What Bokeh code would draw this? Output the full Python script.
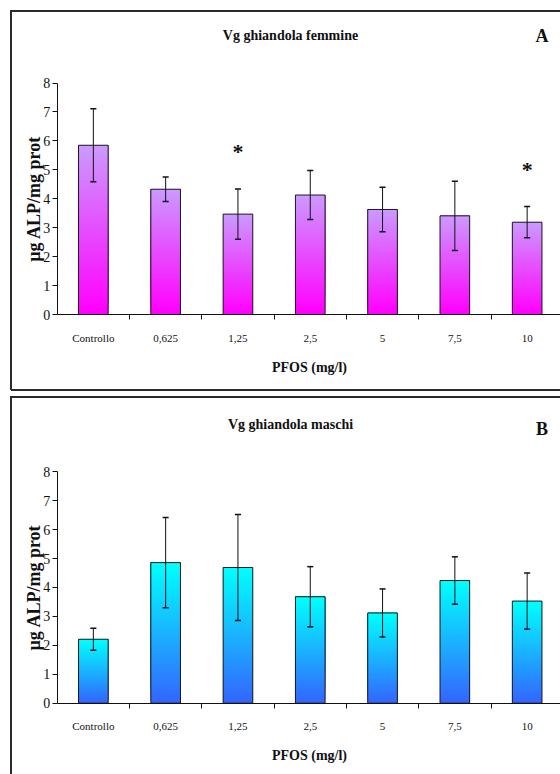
import numpy as np
from bokeh.plotting import figure
from bokeh.models import FixedTicker, ColumnDataSource
from bokeh.layouts import column
from bokeh.embed import file_html
from bokeh.resources import INLINE
from bokeh.core.properties import value

# PFOS doses (mg/l) and Vg measurements (µg ALP / mg prot), mean ± error
doses = ["Controllo", "0,625", "1,25", "2,5", "5", "7,5", "10"]

fem_mean = [5.85, 4.33, 3.47, 4.13, 3.63, 3.41, 3.19]
fem_err = [1.26, 0.42, 0.87, 0.85, 0.77, 1.20, 0.54]
fem_signif = [False, False, True, False, False, False, True]

mas_mean = [2.21, 4.86, 4.69, 3.68, 3.12, 4.24, 3.53]
mas_err = [0.38, 1.56, 1.83, 1.04, 0.83, 0.82, 0.97]
mas_signif = [False] * 7

y_ticks = [0, 1, 2, 3, 4, 5, 6, 7, 8]
y_label = "µg ALP/mg prot"
x_label = "PFOS (mg/l)"

SERIF = "Liberation Serif"
INK = "#111111"
FRAME_INK = "#2b2b2b"
W = 560                # canvas width of each panel
AXIS_X = 56.7          # px from the canvas left to the y axis
CAT_PX = 72.3          # px per dose category
UNIT_PX = 28.93        # px per y unit


def mix(c1, c2, t):
    a = np.array([int(c1[i:i + 2], 16) for i in (1, 3, 5)], float)
    b = np.array([int(c2[i:i + 2], 16) for i in (1, 3, 5)], float)
    c = (a + (b - a) * t).round().astype(int)
    return "#%02x%02x%02x" % tuple(c)


def panel(title, tag, means, errs, signif, c_top, c_bot, H, axis_y,
          box_top, box_bottom, tag_drop):
    """One boxed panel. The plotting frame fills the whole canvas, the axes
    are pinned at the data origin; axis_y is the px distance from the
    canvas top to the x axis."""
    n = len(doses)
    gx = lambda px: (px - AXIS_X) / CAT_PX          # canvas px -> data x
    gy = lambda py: (axis_y - py) / UNIT_PX         # canvas px -> data y
    x0, x1 = gx(0), gx(W)
    y0, y1 = gy(H), gy(0)
    p = figure(width=W, height=H, x_range=(x0, x1), y_range=(y0, y1),
               output_backend="svg", toolbar_location=None, min_border=0)
    p.outline_line_color = None
    p.xgrid.grid_line_color = None
    p.ygrid.grid_line_color = None
    p.background_fill_color = "white"
    p.border_fill_color = "white"

    # panel box
    left = gx(10.5)
    bx0, bx1, by0, by1 = [left], [x1 + 1], [gy(box_top)], [gy(box_top)]
    bottom_y = gy(box_bottom) if box_bottom is not None else y0 - 1
    bx0.append(left); bx1.append(left); by0.append(gy(box_top - 1)); by1.append(bottom_y)
    if box_bottom is not None:
        bx0.append(left); bx1.append(x1 + 1); by0.append(bottom_y); by1.append(bottom_y)
    p.segment(x0=bx0, x1=bx1, y0=by0, y1=by1, line_color=FRAME_INK, line_width=2)

    centers = [i + 0.5 for i in range(n)]
    bw = 0.41

    # vertical gradient inside each bar: overlapping layers, each running
    # from a fraction of the bar height up to its top
    N = 50
    L, R, B, T, C = [], [], [], [], []
    for k in range(N):
        for xc, m in zip(centers, means):
            L.append(xc - bw / 2)
            R.append(xc + bw / 2)
            B.append(m * k / N)
            T.append(m)
            C.append(mix(c_bot, c_top, k / (N - 1)))
    p.quad(left=L, right=R, bottom=B, top=T, fill_color=C, line_color=None)

    src = ColumnDataSource(dict(x=centers, top=means,
                                lo=[m - e for m, e in zip(means, errs)],
                                hi=[m + e for m, e in zip(means, errs)]))
    p.vbar(x="x", top="top", width=bw, bottom=0, source=src,
           fill_color=None, line_color="#1a1a1a", line_width=1)

    # error bars
    cap = 0.042
    p.segment(x0="x", x1="x", y0="lo", y1="hi", source=src, line_color=INK, line_width=1)
    for key in ("hi", "lo"):
        p.segment(x0=[c - cap for c in centers], x1=[c + cap for c in centers],
                  y0=src.data[key], y1=src.data[key], line_color=INK, line_width=1.5)

    # significance marks
    sx = [c for c, s in zip(centers, signif) if s]
    sy = [h + 1.28 for h, s in zip(src.data["hi"], signif) if s]
    if sx:
        p.text(x=sx, y=sy, text=["*"] * len(sx), text_font=value(SERIF),
               text_font_size="22px", text_font_style="bold",
               text_align="center", text_baseline="middle", text_color=INK)

    def txt(px, py, s, size, angle=0.0):
        p.text(x=[gx(px)], y=[gy(py)], text=[s], angle=angle,
               text_font=value(SERIF), text_font_style="bold", text_font_size=size,
               text_align="center", text_baseline="middle", text_color=INK)

    y8 = axis_y - 8 * UNIT_PX
    txt(290.0, y8 - 47.5, title, "14px")
    txt(541.5, y8 - 47.5 + tag_drop, tag, "18px")
    txt(33.0, axis_y - 4 * UNIT_PX, y_label, "18px", angle=np.pi / 2)
    txt(309.0, axis_y + 52.5, x_label, "14px")

    # x axis: labels at category centres, tick marks between categories
    xa = p.xaxis[0]
    xa.fixed_location = 0
    xa.bounds = (0, x1)
    xa.ticker = FixedTicker(ticks=centers, minor_ticks=list(range(1, n)))
    xa.major_label_overrides = {c: d for c, d in zip(centers, doses)}
    xa.major_tick_line_color = None
    xa.major_tick_out = 0
    xa.major_tick_in = 0
    xa.minor_tick_out = 5
    xa.minor_tick_in = 0
    xa.minor_tick_line_color = INK
    xa.axis_line_color = INK
    xa.major_label_standoff = 12
    xa.major_label_text_font = SERIF
    xa.major_label_text_font_size = "11px"
    xa.major_label_text_color = INK

    ya = p.yaxis[0]
    ya.fixed_location = 0
    ya.bounds = (0, 8)
    ya.ticker = FixedTicker(ticks=y_ticks)
    ya.minor_tick_line_color = None
    ya.major_tick_out = 5
    ya.major_tick_in = 0
    ya.major_tick_line_color = INK
    ya.axis_line_color = INK
    ya.major_label_standoff = 2
    ya.major_label_text_font = SERIF
    ya.major_label_text_font_size = "14px"
    ya.major_label_text_color = INK
    return p


# panel A occupies page rows 0-392, panel B rows 392-774
pA = panel("Vg ghiandola femmine", "A", fem_mean, fem_err, fem_signif,
           "#cc99ff", "#ff00ff", 392, 314.0, 10.5, 389.5, 0)
pB = panel("Vg ghiandola maschi", "B", mas_mean, mas_err, mas_signif,
           "#00ffff", "#3366ff", 382, 310.7, 4.5, None, 4.5)

layout = column(pA, pB)
open("out.html", "w").write(file_html(layout, INLINE))
